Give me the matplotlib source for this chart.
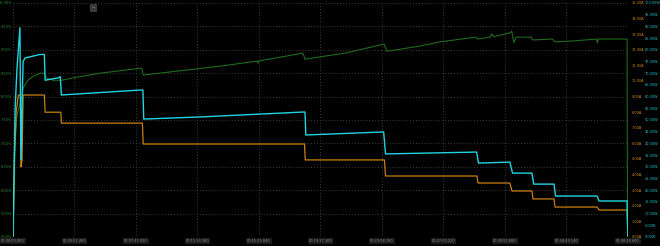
import matplotlib
matplotlib.use("Agg")
import matplotlib.pyplot as plt
from matplotlib.patches import Rectangle

# time in seconds
power_t = [0, 4, 8, 15, 26, 30, 35, 38, 45, 64, 83, 100, 118, 121, 170, 178, 182, 480, 489, 492,
           704, 1090, 1099, 1102, 1395, 1402, 1745, 1752, 1870, 1880, 1953, 1960, 2036, 2042,
           2198, 2206, 2311, 2313, 2315]
power_w = [0, 27, 55, 72, 89.4, 33, 60, 75, 76.5, 77, 77.5, 78, 78, 67, 68, 68.5, 60.7, 62.8, 62.8, 50.4,
           51.3, 53.4, 53.4, 43.6, 44.9, 35.5, 36.3, 31.6, 32.0, 27.3, 27.3, 22.6, 22.6, 17.5,
           17.5, 15.4, 15.4, 5, 0]

current_t = [0, 5, 12, 20, 28, 30, 34, 38, 118, 121, 180, 182, 487, 490, 1097, 1100, 1398, 1402,
             1746, 1750, 1870, 1878, 1953, 1957, 2036, 2040, 2198, 2206, 2311, 2315]
current_a = [0, 5, 8, 9.1, 9.1, 4.5, 4.9, 9.1, 9.1, 8.0, 8.0, 7.3, 7.3, 5.96, 5.96, 4.94, 4.94, 3.91,
             3.91, 3.46, 3.46, 2.95, 2.95, 2.44, 2.44, 1.92, 1.92, 1.73, 1.73, 0]

ratio_t = [0, 8, 15, 34, 38, 56, 75, 102, 118, 125, 150, 185, 226, 328, 485, 490, 580, 704, 780, 920, 922,
           925, 1091, 1099, 1250, 1396, 1408, 1532, 1607, 1742, 1748, 1795, 1802, 1808, 1870, 1877, 1885,
           1893, 1950, 1956, 2030, 2040, 2110, 2196, 2199, 2203, 2311, 2315]
ratio_pct = [4.5, 7.0, 7.6, 8.0, 8.18, 8.35, 8.43, 8.50, 8.50, 8.40, 8.35, 8.35, 8.40, 8.50, 8.61, 8.46,
             8.52, 8.60, 8.65, 8.76, 8.71, 8.76, 8.93, 8.80, 8.93, 9.12, 8.97, 9.08, 9.17, 9.27, 9.23, 9.27,
             9.34, 9.28, 9.36, 9.40, 9.15, 9.27, 9.27, 9.21, 9.23, 9.17, 9.19, 9.23, 9.15, 9.23, 9.23, 0]

x_ticks = [0, 231.46, 462.92, 694.38, 925.84, 1157.3, 1388.76, 1620.22, 1851.68, 2083.14, 2314.6]
x_labels = ["00:00:00.000", "00:03:51.460", "00:07:42.920", "00:11:34.380", "00:15:25.840",
            "00:19:17.300", "00:23:08.760", "00:27:00.220", "00:30:51.680", "00:34:43.140",
            "00:38:34.600"]
pct_ticks = [5.0, 5.5, 6.0, 6.5, 7.0, 7.5, 8.0, 8.5, 9.0, 9.5, 10.0]
amp_ticks = list(range(0, 16))
watt_ticks = list(range(0, 101, 5))

green = "#1d6b1d"
orange = "#c8800f"
cyan = "#1fd5e0"
fs = 2.5

fig = plt.figure(figsize=(6.6, 2.46), dpi=100, facecolor="black")
ax = fig.add_axes([13 / 660, 1 - 237 / 246, 615 / 660, 234 / 246])
ax.set_facecolor("black")
for s in ax.spines.values():
    s.set_visible(False)

ax.plot(ratio_t, ratio_pct, color=green, lw=0.8, zorder=3)
ax.set_ylim(5, 10)
ax.set_xlim(0, 2314.6)
ax.set_yticks(pct_ticks)
ax.set_yticklabels(["%.2f%%" % v for v in pct_ticks])
ax.set_xticks(x_ticks)
ax.set_xticklabels(x_labels)
ax.tick_params(axis="y", length=0, pad=0.5, labelsize=fs, labelcolor="#2e8f2e")
ax.tick_params(axis="x", length=0, pad=1.5, labelsize=fs, labelcolor="#8a8a8a")
for lab in ax.get_xticklabels():
    lab.set_bbox(dict(facecolor="#1c1c1c", edgecolor="none", pad=0.6))
ax.grid(True, color="#3c3c3c", lw=0.7, ls=(0, (1, 2)))
ax.set_axisbelow(True)

ax_a = ax.twinx()
for s in ax_a.spines.values():
    s.set_visible(False)
ax_a.plot(current_t, current_a, color=orange, lw=0.9, zorder=3)
ax_a.set_ylim(0, 15)
ax_a.set_yticks(amp_ticks)
ax_a.set_yticklabels(["%.2fA" % v for v in amp_ticks])
ax_a.tick_params(axis="y", length=0, pad=2.8, labelsize=fs, labelcolor="#d08a10")

ax_w = ax.twinx()
for s in ax_w.spines.values():
    s.set_visible(False)
ax_w.plot(power_t, power_w, color=cyan, lw=1.0, zorder=4)
ax_w.set_ylim(0, 100)
ax_w.set_yticks(watt_ticks)
ax_w.set_yticklabels(["%.2fW" % v for v in watt_ticks])
ax_w.tick_params(axis="y", length=0, pad=12, labelsize=fs, labelcolor="#22bfc8")

# small collapse button at the top
fig.patches.append(Rectangle((90 / 660, 1 - 11 / 246), 6 / 660, 7 / 246, transform=fig.transFigure,
                             facecolor="#3a3a3a", edgecolor="#555555", lw=0.4))
fig.text(93 / 660, 1 - 7.5 / 246, "\u2212", color="#888888", fontsize=3, ha="center", va="center")

fig.savefig("out.png", dpi=100, facecolor="black")
